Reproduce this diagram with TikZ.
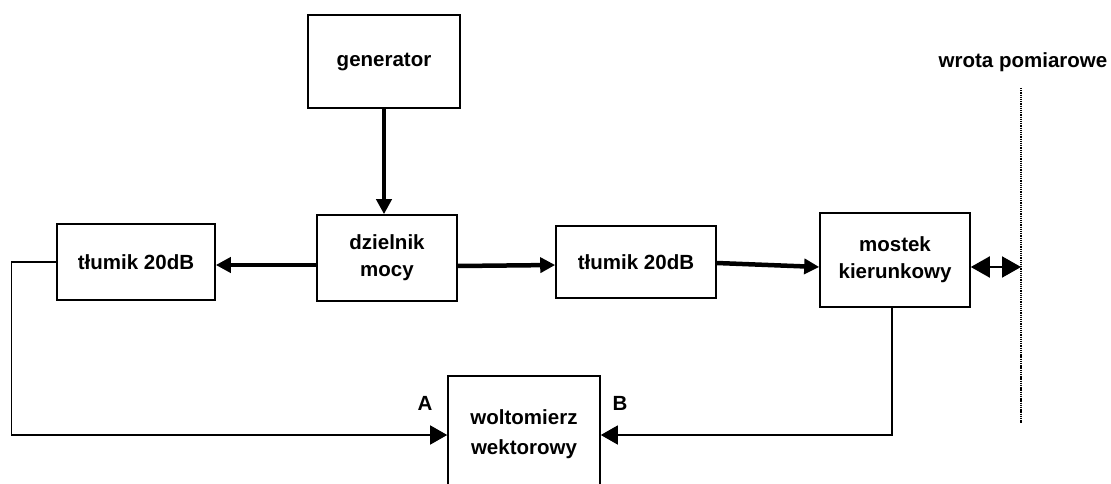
\documentclass[tikz,border=0pt]{standalone}
\usepackage{fontspec}
\setmainfont{Liberation Sans}
\usetikzlibrary{arrows.meta}
\begin{document}
\begin{tikzpicture}[x=1pt,y=-1pt,
  txt/.style={font=\bfseries\fontsize{20.5}{27}\selectfont,inner sep=0pt},
  block/.style={txt,draw,line width=1.6pt,align=center},
  bus/.style={line width=4.5pt,-{Triangle[length=15pt,width=15pt]}},
  wire/.style={line width=1.4pt},
  inarrow/.style={wire,-{Triangle[length=17pt,width=19pt]}},
  portarrow/.style={line width=2pt,{Triangle[length=19pt,width=21pt]}-{Triangle[length=19pt,width=21pt]}},
  portline/.style={line width=2.4pt,dash pattern=on 1.3pt off 0.9pt}]
\useasboundingbox (0,0) rectangle (1111,484);
\clip (0,0) rectangle (1111,484);

% blocks
\node[block,minimum width=152pt,minimum height=93pt] (gen) at (384,61.5) {generator};
\node[block,minimum width=140pt,minimum height=86pt] (dziel) at (387,258) {dzielnik\\mocy};
\node[block,minimum width=158pt,minimum height=76pt] (t1) at (136,262) {tłumik 20dB};
\node[block,minimum width=160pt,minimum height=72pt] (t2) at (636,262) {tłumik 20dB};
\node[block,minimum width=150pt,minimum height=94pt] (most) at (895,260) {mostek\\kierunkowy};
\node[block,minimum width=152pt,minimum height=116pt] (wolt) at (524,434) {woltomierz\\[3pt]wektorowy};

% measurement port
\coordinate (portT) at (1021,88);
\coordinate (portB) at (1021,423);
\draw[portline] (portT) -- (portB);
\node[txt] (portlbl) at (1023,62) {wrota pomiarowe};

% signal path
\draw[bus] (gen.south) -- (gen.south |- dziel.north);
\draw[bus] ([yshift=-7pt]dziel.west) -- ([yshift=-3pt]t1.east);
\draw[bus] ([yshift=-8pt]dziel.east) -- ([yshift=-3pt]t2.west);
\draw[bus] ([yshift=-1pt]t2.east) -- ([yshift=-7pt]most.west);
\coordinate (me) at ([yshift=-7pt]most.east);
\draw[portarrow] (me) -- (me -| portT);

% inputs of the vector voltmeter
\draw[inarrow] (t1.west) -- ++(-45,0) |- ([yshift=-1pt]wolt.west);
\draw[inarrow] ([xshift=-3pt]most.south) |- ([yshift=-1pt]wolt.east);
\node[txt] (lblA) at (425,403) {A};
\node[txt] (lblB) at (620,403) {B};
\end{tikzpicture}
\end{document}
